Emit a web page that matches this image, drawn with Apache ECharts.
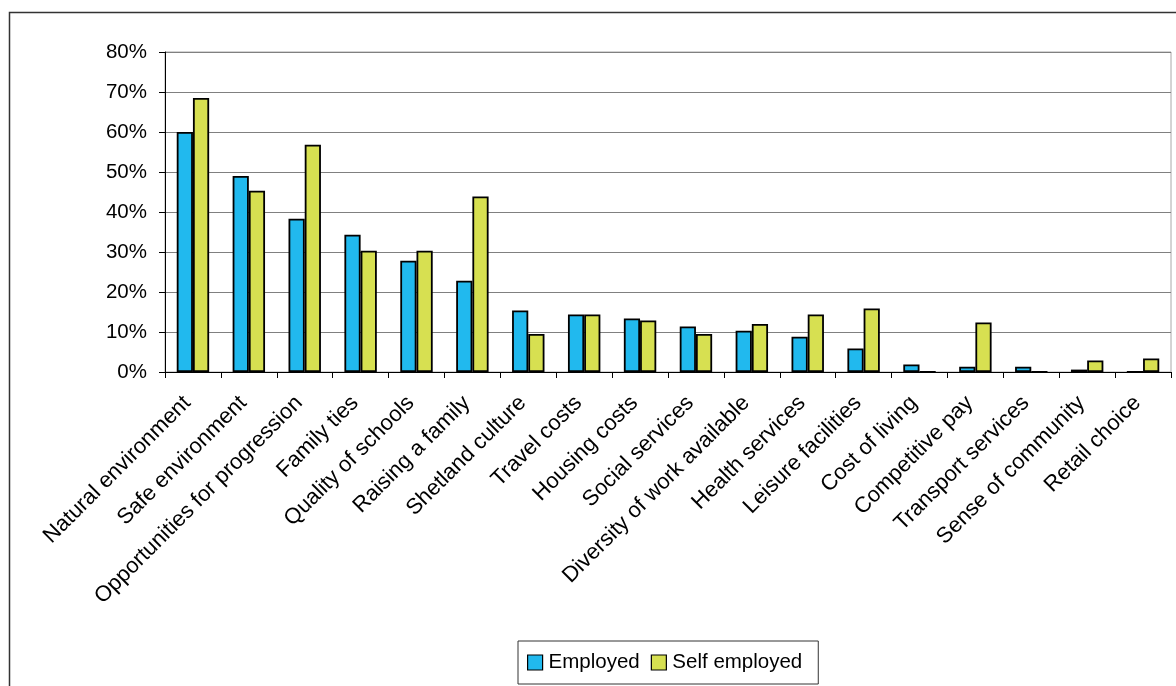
<!DOCTYPE html>
<html>
<head>
<meta charset="utf-8">
<script src="https://cdn.jsdelivr.net/npm/echarts@6/dist/echarts.min.js"></script>
<style>
html,body{margin:0;padding:0;background:#fff;}
#chart{width:1176px;height:686px;}
</style>
</head>
<body>
<div id="chart"></div>
<script>
const categories = ["Natural environment","Safe environment","Opportunities for progression","Family ties","Quality of schools","Raising a family","Shetland culture","Travel costs","Housing costs","Social services","Diversity of work available","Health services","Leisure facilities","Cost of living","Competitive pay","Transport services","Sense of community","Retail choice"];
const employed = [60, 49, 38.3, 34.3, 27.8, 22.8, 15.4, 14.4, 13.4, 11.4, 10.3, 8.8, 5.9, 1.9, 1.3, 1.3, 0.6, 0];
const selfEmployed = [68.5, 45.3, 56.8, 30.3, 30.3, 43.9, 9.5, 14.4, 12.9, 9.5, 12, 14.4, 15.9, 0, 12.4, 0, 2.9, 3.4];
const yTicks = [0, 10, 20, 30, 40, 50, 60, 70, 80];
const seriesNames = ["Employed", "Self employed"];

const chart = echarts.init(document.getElementById('chart'), null, {renderer: 'canvas'});
const font = 'Liberation Sans, Arial, sans-serif';
chart.setOption({
  animation: false,
  backgroundColor: '#fff',
  textStyle: {fontFamily: font},
  graphic: [{
    type: 'rect', silent: true, z: 0,
    shape: {x: 9.5, y: 12.5, width: 1200, height: 700},
    style: {fill: 'none', stroke: '#333', lineWidth: 1.5}
  }],
  grid: {left: 165, right: 5, top: 52, bottom: 314, show: true, borderColor: '#a8a8a8', borderWidth: 1},
  legend: {
    data: seriesNames,
    left: 518, top: 641,
    orient: 'horizontal',
    itemWidth: 15, itemHeight: 15, itemGap: 11,
    padding: [11, 16, 11, 9],
    borderColor: '#333', borderWidth: 1,
    icon: 'rect',
    itemStyle: {borderColor: '#000', borderWidth: 1.2},
    textStyle: {fontSize: 20.5, color: '#000', fontFamily: font, padding: [0, 0, 0, 1]}
  },
  xAxis: {
    type: 'category',
    data: categories,
    axisLine: {lineStyle: {color: '#000', width: 1}},
    axisTick: {show: true, length: 6, lineStyle: {color: '#000'}},
    axisLabel: {interval: 0, rotate: 45, fontSize: 22, color: '#000', margin: 22, padding: [0, 8, 0, 0], fontFamily: font},
    splitLine: {show: false}
  },
  yAxis: {
    type: 'value',
    min: 0, max: 80, interval: 10,
    axisLine: {show: true, lineStyle: {color: '#000', width: 1}},
    axisTick: {show: true, length: 6, lineStyle: {color: '#000'}},
    axisLabel: {formatter: v => yTicks.includes(v) ? v + '%' : '', fontSize: 20.5, color: '#000', margin: 18, fontFamily: font},
    splitLine: {show: true, lineStyle: {color: '#808080', width: 1}}
  },
  series: [
    {name: seriesNames[0], type: 'bar', data: employed, barGap: '0%', barCategoryGap: '42%',
     itemStyle: {color: '#21B9EE', borderColor: '#000', borderWidth: 1.8}},
    {name: seriesNames[1], type: 'bar', data: selfEmployed, barGap: '0%', barCategoryGap: '42%',
     itemStyle: {color: '#D7E051', borderColor: '#000', borderWidth: 1.8}}
  ]
});
</script>
</body>
</html>
